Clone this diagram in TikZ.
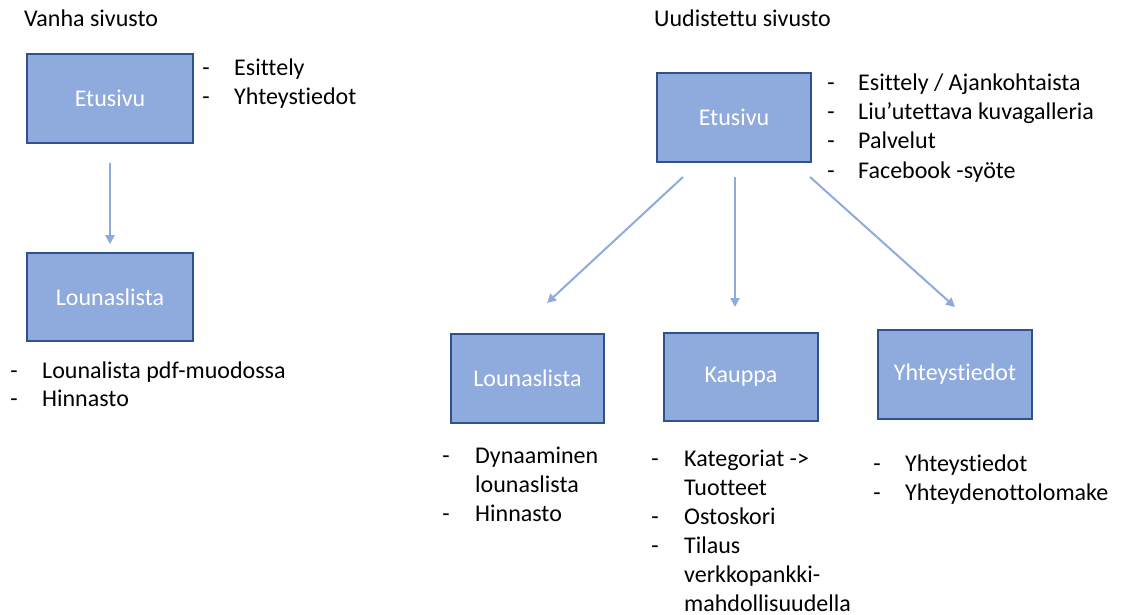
\documentclass[tikz,border=0pt]{standalone}
\usepackage{fontspec}
\setmainfont{Carlito}[Ligatures={NoCommon,NoRare,NoDiscretionary}]
\usetikzlibrary{arrows.meta}
\definecolor{boxfill}{HTML}{8FAADC}
\definecolor{boxline}{HTML}{2F528F}
\definecolor{arrowcol}{HTML}{8FAADC}
\begin{document}
\begin{tikzpicture}[x=1pt,y=-1pt,
  page/.style={draw=boxline,fill=boxfill,line width=1.6pt,inner sep=0pt,
    text=white,font=\fontsize{24}{29}\selectfont},
  txt/.style={anchor=base west,inner sep=0pt,font=\fontsize{24}{29}\selectfont},
  dsh/.style={anchor=base,inner sep=0pt,font=\fontsize{24}{29}\selectfont},
  link/.style={draw=arrowcol,line width=2pt,
    -{Triangle[length=9pt,width=9pt]}}]
\useasboundingbox (0,0) rectangle (1121,615);

% ---- old site ----
\node[txt] (oldtitle) at (24,27) {Vanha sivusto};
\node[page,minimum width=166pt,minimum height=89pt] (oldEtu) at (110,98.5) {Etusivu};
\node[page,minimum width=166pt,minimum height=88pt] (oldLou) at (110,297) {Lounaslista};
\draw[link,shorten <=19pt,shorten >=8pt] (oldEtu.south) -- (oldLou.north);

\node[dsh] (oe1d) at (206,76) {-};
\node[txt] (oe1) at (234,76) {Esittely};
\node[dsh] (oe2d) at (206,105) {-};
\node[txt] (oe2) at (234,105) {Yhteystiedot};

\node[dsh] (ol1d) at (14,378) {-};
\node[txt] (ol1) at (42,378) {Lounalista pdf-muodossa};
\node[dsh] (ol2d) at (14,406) {-};
\node[txt] (ol2) at (42,406) {Hinnasto};

% ---- renewed site ----
\node[txt] (newtitle) at (654,27) {Uudistettu sivusto};
\node[page,minimum width=154pt,minimum height=89pt] (newEtu) at (734,117.5) {Etusivu};
\node[page,minimum width=153pt,minimum height=89pt] (newLou) at (527.5,378.5) {Lounaslista};
\node[page,minimum width=154pt,minimum height=88pt] (shop) at (741,377) {Kauppa};
\node[page,minimum width=154pt,minimum height=89pt] (contact) at (955,374.5) {Yhteystiedot};

\coordinate (a1s) at (683,177);
\coordinate (a1e) at (547,303);
\coordinate (a2s) at (735,177);
\coordinate (a2e) at (735,307);
\coordinate (a3s) at (810,177);
\coordinate (a3e) at (955,307);
\draw[link] (a1s) -- (a1e);
\draw[link] (a2s) -- (a2e);
\draw[link] (a3s) -- (a3e);

\node[dsh] (ne1d) at (831,91) {-};
\node[txt] (ne1) at (858,91) {Esittely / Ajankohtaista};
\node[dsh] (ne2d) at (831,120) {-};
\node[txt] (ne2) at (858,120) {Liu’utettava kuvagalleria};
\node[dsh] (ne3d) at (831,149) {-};
\node[txt] (ne3) at (858,149) {Palvelut};
\node[dsh] (ne4d) at (831,178) {-};
\node[txt] (ne4) at (858,178) {Facebook -syöte};

\node[dsh] (nl1d) at (446,463) {-};
\node[txt] (nl1) at (475,463) {Dynaaminen};
\node[txt] (nl1b) at (475,492) {lounaslista};
\node[dsh] (nl2d) at (446,521) {-};
\node[txt] (nl2) at (475,521) {Hinnasto};

\node[dsh] (k1d) at (655,466) {-};
\node[txt] (k1) at (684,466) {Kategoriat ->};
\node[txt] (k1b) at (684,495) {Tuotteet};
\node[dsh] (k2d) at (655,524) {-};
\node[txt] (k2) at (684,524) {Ostoskori};
\node[dsh] (k3d) at (655,553) {-};
\node[txt] (k3) at (684,553) {Tilaus};
\node[txt] (k3b) at (684,582) {verkkopankki-};
\node[txt] (k3c) at (684,611) {mahdollisuudella};

\node[dsh] (y1d) at (877,471) {-};
\node[txt] (y1) at (905,471) {Yhteystiedot};
\node[dsh] (y2d) at (877,500) {-};
\node[txt] (y2) at (905,500) {Yhteydenottolomake};
\end{tikzpicture}
\end{document}
